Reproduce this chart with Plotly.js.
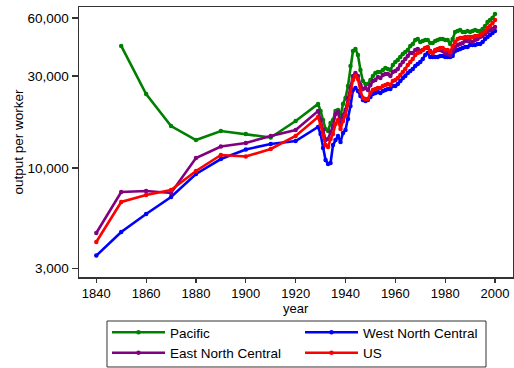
<!DOCTYPE html>
<html><head><meta charset="utf-8">
<script src="https://cdn.plot.ly/plotly-3.0.1.min.js"></script>
<style>html,body{margin:0;padding:0;background:#fff}#chart{width:514px;height:368px}</style>
</head><body><div id="chart"></div>
<script>
const years = [1840,1850,1860,1870,1880,1890,1900,1910,1920,
1929,1930,1931,1932,1933,1934,1935,1936,1937,1938,
1939,1940,1941,1942,1943,1944,1945,1946,1947,1948,
1949,1950,1951,1952,1953,1954,1955,1956,1957,1958,
1959,1960,1961,1962,1963,1964,1965,1966,1967,1968,
1969,1970,1971,1972,1973,1974,1975,1976,1977,1978,
1979,1980,1981,1982,1983,1984,1985,1986,1987,1988,
1989,1990,1991,1992,1993,1994,1995,1996,1997,1998,
1999,2000];

const pacific = [null,43000,24200,16500,13970,15560,15010,14400,17530,
21490,19760,17750,15940,15560,17120,17750,19760,20000,18610,
21490,23080,26640,33830,40470,41450,38580,32250,28280,27280,
27280,28620,30020,31120,31490,31490,32250,33030,32640,32250,
34240,35490,36340,37670,39050,39990,40960,42960,44000,46150,
46710,45060,45600,46150,46150,44530,44530,45600,46150,46710,
46710,46150,46150,44000,46710,50780,51390,52010,50780,50780,
51390,50780,51390,52010,51390,51390,52640,54560,57230,58610,
60030,62970];

const westNorthCentral = [3510,4653,5770,7072,9308,11130,12480,13320,13810,
16320,15010,12700,11000,10490,10620,13160,13970,14660,13640,
15190,15750,17960,20980,25400,26010,25090,23640,22540,22270,
22540,23360,24210,24500,24800,24500,25090,25400,25700,25700,
26640,26640,27280,28280,29310,30020,31120,31870,32640,33830,
34650,35490,36780,38580,39520,37670,37670,37670,37670,38120,
38120,37670,37670,37670,38120,40470,40960,41450,41950,42450,
42450,43480,43480,43480,44000,44000,45060,46710,47840,49000,
50180,51390];

const eastNorthCentral = [4600,7508,7599,7418,11270,12930,13480,14660,15750,
19760,17750,15750,13970,14140,15370,16520,19070,19530,16920,
18840,20000,23080,26010,30020,31120,30020,26960,25700,26010,
25400,26960,28280,28620,29660,29310,30380,30750,30750,30020,
31490,31870,32640,34240,35490,36780,38120,39520,39520,40960,
41450,40470,40960,41950,41950,40470,39520,40470,40960,40960,
40470,39520,39050,38580,40470,42450,43480,44000,44530,45600,
45600,45600,45060,46150,46710,47840,48410,49590,50780,52010,
52640,53910];

const us = [4130,6662,7241,7687,9648,11680,11470,12550,14660,
18390,16720,14830,13160,12850,14140,15010,16920,17750,15940,
17530,18840,21490,24500,28620,30020,28970,25090,23080,22810,
22810,24500,25400,25700,26010,26010,26640,26960,27280,26960,
28280,28620,29310,30380,31490,32640,34240,35490,36780,38580,
39520,39990,40960,41950,42450,39990,39520,40960,41450,41950,
41950,40960,40960,39990,42960,45060,46710,47270,47270,47840,
47840,47840,47840,48410,48410,49000,50180,51390,53270,54560,
56550,58610];

const seriesNames = ["Pacific","West North Central","East North Central","US"];
const seriesColors = ["#008000","#0000ff","#800080","#ff0000"];
const seriesValues = [pacific, westNorthCentral, eastNorthCentral, us];

const xTicks = [1840,1860,1880,1900,1920,1940,1960,1980,2000];
const yTicks = [3000,10000,30000,60000];
const yTickText = ["3,000","10,000","30,000","60,000"];

const FONT = "Liberation Sans, Arial, Helvetica, sans-serif";

const traces = seriesValues.map((vals, i) => ({
  type: "scatter",
  mode: "lines+markers",
  name: seriesNames[i],
  x: years,
  y: vals,
  connectgaps: false,
  line: {color: seriesColors[i], width: 2.6},
  marker: {color: seriesColors[i], size: 4.5},
}));

const layout = {
  width: 514, height: 368,
  margin: {l: 79, r: 1, t: 7, b: 91, autoexpand: false},
  paper_bgcolor: "#fff", plot_bgcolor: "#fff",
  font: {family: FONT, size: 13.5, color: "#000"},
  showlegend: true,
  xaxis: {
    range: [1833.06, 2007.22],
    tickvals: xTicks,
    ticks: "outside", ticklen: 4, tickwidth: 1.2, tickcolor: "#333",
    showline: true, linecolor: "#333", linewidth: 1.5, mirror: true,
    showgrid: false, zeroline: false,
    tickfont: {family: FONT, size: 13, color: "#000"},
  },
  yaxis: {
    type: "log",
    range: [3.43435, 4.8355],
    tickvals: yTicks, ticktext: yTickText,
    ticks: "outside", ticklen: 6, tickwidth: 1.2, tickcolor: "#333",
    showline: true, linecolor: "#333", linewidth: 1.5, mirror: true,
    showgrid: false, zeroline: false,
    tickfont: {family: FONT, size: 13.5, color: "#000"},
    title: {text: "output per worker", standoff: 1, font: {family: FONT, size: 13.5, color: "#000"}},
  },
  annotations: [{
    text: "year", xref: "paper", yref: "paper", x: 0.5, y: -0.1185,
    xanchor: "center", yanchor: "middle", showarrow: false,
    font: {family: FONT, size: 13, color: "#000"},
  }],
  shapes: [{
    type: "rect", xref: "paper", yref: "paper",
    x0: 0.0645, x1: 0.9378, y0: -0.163, y1: -0.3333,
    line: {color: "#333", width: 1}, fillcolor: "rgba(0,0,0,0)",
  }],
  legend: {
    orientation: "h",
    x: 0.0645, xanchor: "left",
    y: -0.148, yanchor: "top",
    borderwidth: 0, bgcolor: "rgba(0,0,0,0)",
    entrywidth: 125, entrywidthmode: "pixels",
    itemwidth: 53,
    traceorder: "normal",
    font: {family: FONT, size: 13.5, color: "#000"},
  },
};

Plotly.newPlot("chart", traces, layout, {displayModeBar: false, staticPlot: true});
</script>
</body></html>
